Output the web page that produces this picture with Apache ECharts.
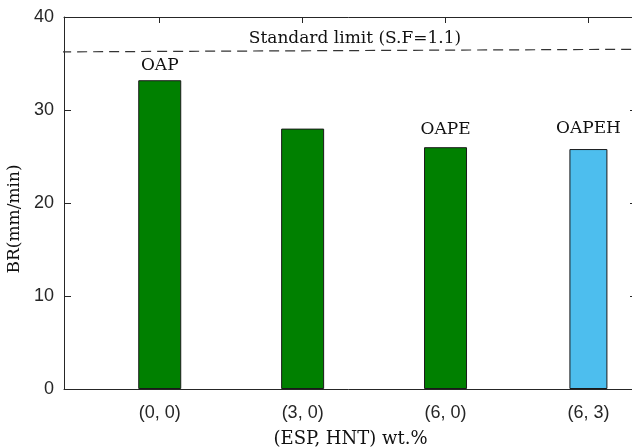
<!DOCTYPE html>
<html>
<head>
<meta charset="utf-8">
<script src="https://cdn.jsdelivr.net/npm/echarts@6/dist/echarts.min.js"></script>
<style>
  html, body { margin: 0; padding: 0; background: #fff; }
  #chart { width: 632px; height: 448px; }
</style>
</head>
<body>
<div id="chart"></div>
<script>
// data
const categories = ['(0, 0)', '(3, 0)', '(6, 0)', '(6, 3)']
const brValues = [33.2, 28.0, 26.0, 25.8]
const barLabels = ['OAP', '', 'OAPE', 'OAPEH']
const labelGaps = [6, 0, 9, 11.5]
const yTicks = [0, 10, 20, 30, 40]
const limitLine = [[0.31, 36.25], [4.34, 36.53]]
const limitText = 'Standard limit (S.F=1.1)'

const axisColor = '#262626'
const serif = 'DejaVu Serif'
const sans = 'Liberation Sans'
const catPos = categories.map((c, i) => i + 1)

function barItem(i) {
  const item = { value: [catPos[i], brValues[i]] }
  if (barLabels[i]) {
    item.label = {
      show: true,
      position: 'top',
      distance: labelGaps[i],
      formatter: barLabels[i],
      fontFamily: serif,
      fontSize: 17,
      color: '#111'
    }
  }
  return item
}

const chart = echarts.init(document.getElementById('chart'))

const xCommon = {
  type: 'value',
  min: 0.33,
  max: 4.34,
  splitLine: { show: false },
  axisLine: { show: true, onZero: false, lineStyle: { color: axisColor, width: 1 } },
  axisTick: { show: true, inside: true, length: 6, customValues: catPos, lineStyle: { color: axisColor } }
}

chart.setOption({
  animation: false,
  grid: { left: 64, right: -5, top: 17, bottom: 59, outerBoundsMode: 'none' },
  xAxis: [
    Object.assign({}, xCommon, {
      position: 'bottom',
      name: '(ESP, HNT) wt.%',
      nameLocation: 'middle',
      nameGap: 41,
      nameTextStyle: { fontFamily: serif, fontSize: 18, color: '#111' },
      axisLabel: {
        customValues: catPos,
        formatter: v => categories[Math.round(v) - 1] || '',
        fontFamily: sans,
        fontSize: 18,
        color: axisColor,
        margin: 15
      }
    }),
    Object.assign({}, xCommon, {
      position: 'top',
      axisLabel: { show: false }
    })
  ],
  yAxis: [
    {
      type: 'value',
      min: yTicks[0],
      max: yTicks[yTicks.length - 1],
      interval: 10,
      position: 'left',
      splitLine: { show: false },
      axisLine: { show: true, lineStyle: { color: axisColor, width: 1 } },
      axisTick: { show: true, inside: true, length: 7, lineStyle: { color: axisColor } },
      axisLabel: { fontFamily: sans, fontSize: 18, color: axisColor, margin: 10 }
    },
    {
      type: 'value',
      min: yTicks[0],
      max: yTicks[yTicks.length - 1],
      interval: 10,
      position: 'right',
      splitLine: { show: false },
      axisLine: { show: true, lineStyle: { color: axisColor, width: 1 } },
      axisTick: { show: true, inside: true, length: 7, lineStyle: { color: axisColor } },
      axisLabel: { show: false }
    }
  ],
  graphic: [
    {
      type: 'text',
      x: 15,
      y: 219,
      rotation: Math.PI / 2,
      style: {
        text: 'BR(mm/min)',
        font: '17px "' + serif + '"',
        fill: '#111',
        align: 'center',
        verticalAlign: 'middle'
      }
    },
    {
      type: 'text',
      x: 355,
      y: 38.5,
      z: 10,
      style: {
        text: limitText,
        font: '17px "' + serif + '"',
        fill: '#111',
        align: 'center',
        verticalAlign: 'middle'
      }
    }
  ],
  series: [
    {
      type: 'bar',
      xAxisIndex: 0,
      yAxisIndex: 0,
      barWidth: 43,
      itemStyle: { color: '#008000', borderColor: '#1a1a1a', borderWidth: 1 },
      data: [0, 1, 2].map(barItem)
    },
    {
      type: 'bar',
      xAxisIndex: 1,
      yAxisIndex: 0,
      barWidth: 38,
      itemStyle: { color: '#4dbeee', borderColor: '#1a1a1a', borderWidth: 1 },
      data: [3].map(barItem)
    },
    {
      type: 'line',
      xAxisIndex: 0,
      yAxisIndex: 0,
      clip: false,
      symbol: 'none',
      lineStyle: { color: '#333', width: 1.2, type: [10, 6] },
      data: limitLine
    }
  ]
})
</script>
</body>
</html>
